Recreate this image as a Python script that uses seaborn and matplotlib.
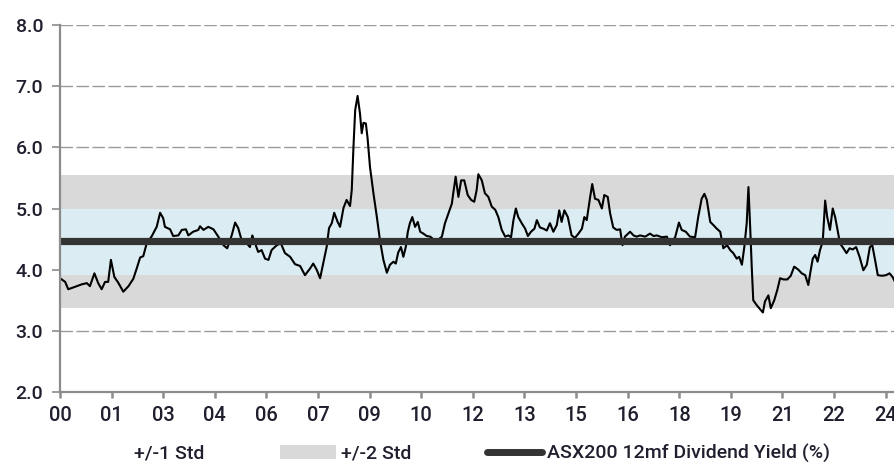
import numpy as np
import pandas as pd
import matplotlib
matplotlib.use("Agg")
import matplotlib.pyplot as plt
import seaborn as sns
from matplotlib.patches import Patch
from matplotlib.lines import Line2D

# ------------------ Data ------------------
# years after 2000 (decimal) and 12mf dividend yield (%)
years = [
    0.00, 0.15, 0.24, 0.44, 0.63, 0.78, 0.87, 1.00, 1.11, 1.21, 1.31, 1.40, 1.48, 1.58, 1.69, 1.84,
    1.99, 2.13, 2.23, 2.33, 2.42, 2.52, 2.67, 2.81, 2.91, 3.00, 3.05, 3.20, 3.29, 3.44, 3.54, 3.66,
    3.73, 3.87, 4.02, 4.07, 4.17, 4.31, 4.46, 4.60, 4.75, 4.86, 4.99, 5.09, 5.18, 5.28, 5.43, 5.52,
    5.59, 5.67, 5.76, 5.86, 5.96, 6.06, 6.15, 6.30, 6.42, 6.54, 6.69, 6.83, 6.98, 7.12, 7.27, 7.36,
    7.46, 7.56, 7.65, 7.75, 7.82, 7.90, 7.97, 8.07, 8.14, 8.24, 8.33, 8.43, 8.48, 8.53, 8.58, 8.65,
    8.72, 8.77, 8.82, 8.89, 8.94, 9.01, 9.11, 9.21, 9.30, 9.40, 9.50, 9.59, 9.69, 9.76, 9.83, 9.91,
    9.98, 10.05, 10.11, 10.17, 10.24, 10.32, 10.40, 10.47, 10.56, 10.66, 10.76, 10.93, 11.10, 11.19,
    11.29, 11.39, 11.43, 11.50, 11.58, 11.66, 11.75, 11.85, 11.95, 12.04, 12.11, 12.16, 12.26, 12.35,
    12.45, 12.55, 12.65, 12.74, 12.84, 12.94, 13.03, 13.11, 13.18, 13.25, 13.32, 13.42, 13.52, 13.60,
    13.69, 13.79, 13.86, 13.95, 14.05, 14.15, 14.24, 14.34, 14.44, 14.51, 14.58, 14.66, 14.76, 14.87,
    14.97, 15.07, 15.17, 15.24, 15.31, 15.41, 15.47, 15.55, 15.65, 15.75, 15.82, 15.92, 15.99, 16.08,
    16.18, 16.28, 16.35, 16.42, 16.57, 16.67, 16.76, 16.86, 17.01, 17.15, 17.25, 17.35, 17.49, 17.64,
    17.73, 17.88, 17.99, 18.07, 18.19, 18.31, 18.46, 18.55, 18.65, 18.73, 18.80, 18.90, 18.99, 19.09,
    19.19, 19.28, 19.39, 19.48, 19.57, 19.67, 19.74, 19.82, 19.89, 19.96, 20.01, 20.06, 20.11, 20.15,
    20.25, 20.43, 20.49, 20.59, 20.66, 20.76, 20.85, 20.93, 21.03, 21.14, 21.24, 21.34, 21.46, 21.56,
    21.66, 21.75, 21.82, 21.88, 21.95, 22.02, 22.09, 22.17, 22.24, 22.30, 22.38, 22.46, 22.53, 22.60,
    22.67, 22.77, 22.86, 22.95, 23.04, 23.14, 23.24, 23.35, 23.45, 23.54, 23.61, 23.69, 23.77, 23.89,
    24.01, 24.11, 24.20, 24.27,
]
dividend_yield = [
    3.86, 3.80, 3.68, 3.72, 3.76, 3.78, 3.73, 3.94, 3.78, 3.68, 3.80, 3.80, 4.16, 3.88, 3.79, 3.64,
    3.73, 3.85, 4.02, 4.20, 4.22, 4.43, 4.55, 4.70, 4.93, 4.84, 4.70, 4.66, 4.55, 4.56, 4.65, 4.66,
    4.56, 4.62, 4.65, 4.71, 4.65, 4.70, 4.66, 4.54, 4.40, 4.35, 4.56, 4.77, 4.68, 4.48, 4.43, 4.37,
    4.56, 4.43, 4.29, 4.32, 4.18, 4.16, 4.32, 4.40, 4.43, 4.27, 4.21, 4.09, 4.06, 3.91, 4.02, 4.10,
    4.00, 3.86, 4.10, 4.37, 4.68, 4.76, 4.93, 4.78, 4.70, 5.01, 5.14, 5.04, 5.30, 6.01, 6.61, 6.84,
    6.55, 6.23, 6.40, 6.39, 6.15, 5.68, 5.25, 4.86, 4.48, 4.16, 3.95, 4.08, 4.13, 4.10, 4.28, 4.37,
    4.21, 4.37, 4.62, 4.76, 4.86, 4.70, 4.78, 4.62, 4.59, 4.55, 4.54, 4.46, 4.54, 4.76,
    4.92, 5.08, 5.25, 5.52, 5.19, 5.46, 5.46, 5.22, 5.14, 5.11, 5.30, 5.56, 5.46, 5.25,
    5.19, 5.03, 4.98, 4.86, 4.65, 4.54, 4.56, 4.53, 4.81, 5.00, 4.86, 4.76, 4.67, 4.55,
    4.62, 4.67, 4.81, 4.69, 4.67, 4.64, 4.76, 4.62, 4.73, 4.97, 4.78, 4.97, 4.86, 4.56,
    4.52, 4.59, 4.67, 4.86, 4.81, 5.19, 5.40, 5.16, 5.14, 5.00, 5.22, 5.19, 4.92, 4.69,
    4.65, 4.66, 4.40, 4.54, 4.62, 4.56, 4.54, 4.56, 4.54, 4.59, 4.55, 4.56, 4.53, 4.54,
    4.40, 4.53, 4.77, 4.65, 4.62, 4.54, 4.53, 4.86, 5.16, 5.24, 5.14, 4.78, 4.73, 4.67,
    4.62, 4.35, 4.40, 4.32, 4.27, 4.18, 4.21, 4.08, 4.37, 4.76, 5.35, 4.70, 3.99, 3.50,
    3.42, 3.30, 3.48, 3.58, 3.37, 3.50, 3.67, 3.86, 3.84, 3.84, 3.90, 4.05, 4.00, 3.94,
    3.91, 3.75, 3.99, 4.18, 4.24, 4.13, 4.32, 4.46, 5.13, 4.86, 4.65, 5.00, 4.86, 4.65,
    4.43, 4.35, 4.27, 4.35, 4.33, 4.37, 4.21, 3.99, 4.08, 4.37, 4.40, 4.16, 3.91, 3.90,
    3.91, 3.94, 3.88, 3.80,
]
avg_yield = 4.47
band_1std = [3.92, 5.00]
band_2std = [3.38, 5.55]

tick_years = [2000, 2001.5, 2003, 2004.5, 2006, 2007.5, 2009, 2010.5, 2012, 2013.5,
              2015, 2016.5, 2018, 2019.5, 2021, 2022.5, 2024]
tick_labels = ["00", "01", "03", "04", "06", "07", "09", "10", "12", "13",
               "15", "16", "18", "19", "21", "22", "24"]
y_ticks = [2.0, 3.0, 4.0, 5.0, 6.0, 7.0, 8.0]

legend_labels = ["+/-1 Std", "+/-2 Std", "ASX200 12mf Dividend Yield (%)"]

# ------------------ Style ------------------
sns.set_theme(style="white")
plt.rcParams["font.family"] = ["Roboto", "DejaVu Sans"]
plt.rcParams["font.weight"] = 500

GREY_BAND = "#d9d9d9"
BLUE_BAND = "#dbedf2"
DARK = "#333333"
AXIS_GREY = "#8c8c8c"
TEXT = "#1f1f2e"

df = pd.DataFrame({"year": 2000 + np.array(years), "yield": dividend_yield})

fig = plt.figure(figsize=(8.95, 4.68), dpi=100)
ax = fig.add_axes([60 / 895, 1 - 392 / 468, 835 / 895, 367 / 468])

# grid lines (dashed, behind the bands)
for yv in y_ticks[1:]:
    ax.axhline(yv, color="#9a9a9a", lw=1.0, ls=(0, (9, 2.5)), zorder=0)

ax.axhspan(band_2std[0], band_2std[1], color=GREY_BAND, lw=0, zorder=1)
ax.axhspan(band_1std[0], band_1std[1], color=BLUE_BAND, lw=0, zorder=2)

sns.lineplot(data=df, x="year", y="yield", ax=ax, color="black", lw=1.5, zorder=3,
             estimator=None, sort=False)
ax.axhline(avg_yield, color=DARK, lw=5.2, zorder=4)

ax.set_xlim(2000, 2024.27)
ax.set_ylim(2.0, 8.0)
ax.set_xticks(tick_years)
ax.set_xticklabels(tick_labels)
ax.set_yticks(y_ticks)
ax.set_yticklabels([f"{v:.1f}" for v in y_ticks])
ax.set_xlabel("")
ax.set_ylabel("")

for side in ["top", "right"]:
    ax.spines[side].set_visible(False)
for side in ["left", "bottom"]:
    ax.spines[side].set_color(AXIS_GREY)
    ax.spines[side].set_linewidth(1.6)
    ax.spines[side].set_zorder(5)

ax.tick_params(axis="y", direction="out", length=6, width=1.2, color=AXIS_GREY,
               labelsize=14, labelcolor=TEXT, pad=6, left=True)
ax.tick_params(axis="x", direction="out", length=4, width=1.8, color=AXIS_GREY,
               labelsize=14.5, labelcolor=TEXT, pad=6, bottom=True)

# ------------------ Legend ------------------
handles = [
    Patch(facecolor="none", edgecolor="none"),
    Patch(facecolor=GREY_BAND, edgecolor="none"),
    Line2D([0], [0], color=DARK, lw=5),
]
fig.legend(handles, legend_labels, loc="center", bbox_to_anchor=(0.505, 0.031), ncol=3,
           frameon=False, fontsize=14, handlelength=2.85, handleheight=0.75,
           handletextpad=0.25, columnspacing=3.9, labelcolor=TEXT)

fig.savefig("out.png", dpi=100)
